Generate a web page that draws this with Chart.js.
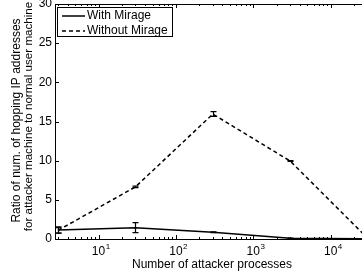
<!DOCTYPE html>
<html>
<head>
<meta charset="utf-8">
<script src="https://cdn.jsdelivr.net/npm/chart.js@4.4.0/dist/chart.umd.min.js"></script>
<style>
  html, body { margin: 0; padding: 0; background: #fff; }
  #wrap { width: 362px; height: 275px; }
</style>
</head>
<body>
<div id="wrap"><canvas id="graph" width="362" height="275"></canvas></div>
<script>
// Values
const processes = [3, 30, 300, 3000, 30000];
const withMirage = [1.15, 1.45, 0.85, 0.1, 0.02];
const withMirageErr = [0.4, 0.64, 0.05, 0.03, 0];
const withoutMirage = [1.1, 6.65, 15.95, 9.95, 0.1];
const withoutMirageErr = [0.35, 0.1, 0.3, 0.05, 0];
const yTicks = [0, 5, 10, 15, 20, 25, 30];
const xDecades = [1, 2, 3, 4];
const seriesNames = ['With Mirage', 'Without Mirage'];

const FONT = '"Liberation Sans", Arial, sans-serif';

function points(ys) {
    return processes.map((x, i) => ({ x: x, y: ys[i] }));
}

// Axes, ticks, error bars and legend drawn in MATLAB style
const matlabAxes = {
    id: 'matlabAxes',
    afterDatasetsDraw(chart) {
        const ctx = chart.ctx;
        const a = chart.chartArea;
        const xs = chart.scales.x;
        const ys = chart.scales.y;
        ctx.save();
        ctx.strokeStyle = '#000';
        ctx.fillStyle = '#000';

        // error bars
        ctx.save();
        ctx.beginPath();
        ctx.rect(a.left, a.top - 2, a.right - a.left, a.bottom - a.top + 2);
        ctx.clip();
        ctx.lineWidth = 1.2;
        chart.data.datasets.forEach(ds => {
            ds.data.forEach((p, j) => {
                const e = ds.errors[j];
                if (!e) return;
                const px = Math.round(xs.getPixelForValue(p.x)) + 0.5;
                const t = ys.getPixelForValue(p.y + e);
                const b = ys.getPixelForValue(p.y - e);
                ctx.beginPath();
                ctx.moveTo(px, t); ctx.lineTo(px, b);
                ctx.moveTo(px - 3, t); ctx.lineTo(px + 3, t);
                ctx.moveTo(px - 3, b); ctx.lineTo(px + 3, b);
                ctx.stroke();
            });
        });
        ctx.restore();

        // box (right side falls outside the picture)
        ctx.lineWidth = 1;
        ctx.beginPath();
        ctx.moveTo(a.right, a.top + 0.5);
        ctx.lineTo(a.left + 0.5, a.top + 0.5);
        ctx.lineTo(a.left + 0.5, a.bottom + 0.5);
        ctx.lineTo(a.right, a.bottom + 0.5);
        ctx.stroke();

        // log ticks on bottom and top
        ctx.beginPath();
        for (let k = 0; k <= 4; k++) {
            for (let m = 1; m <= 9; m++) {
                const v = m * Math.pow(10, k);
                if (v < xs.min || v > xs.max) continue;
                const px = Math.round(xs.getPixelForValue(v)) + 0.5;
                const len = m === 1 ? 4 : 2;
                ctx.moveTo(px, a.bottom); ctx.lineTo(px, a.bottom - len);
                ctx.moveTo(px, a.top); ctx.lineTo(px, a.top + len);
            }
        }
        // y ticks
        yTicks.forEach(v => {
            const py = Math.round(ys.getPixelForValue(v)) + 0.5;
            ctx.moveTo(a.left, py); ctx.lineTo(a.left + 4, py);
        });
        ctx.stroke();

        // y tick labels
        ctx.font = '12px ' + FONT;
        ctx.textAlign = 'right';
        ctx.textBaseline = 'middle';
        yTicks.forEach(v => {
            ctx.fillText(String(v), a.left - 3, ys.getPixelForValue(v));
        });

        // x tick labels 10^k
        xDecades.forEach(k => {
            const px = xs.getPixelForValue(Math.pow(10, k));
            ctx.font = '12px ' + FONT;
            ctx.textAlign = 'center';
            ctx.textBaseline = 'alphabetic';
            ctx.fillText('10', px, a.bottom + 16);
            const w = ctx.measureText('10').width;
            ctx.font = '8px ' + FONT;
            ctx.textAlign = 'left';
            ctx.fillText(String(k), px + w / 2 + 0.5, a.bottom + 10);
        });

        // axis titles
        ctx.font = '12px ' + FONT;
        ctx.textAlign = 'center';
        ctx.textBaseline = 'middle';
        ctx.fillText('Number of attacker processes', 212, 265);
        ctx.textBaseline = 'alphabetic';
        [['Ratio of num. of hopping IP addresses', 19.5, 120.5, 12],
         ['for attacker machine to normal user machine', 32.3, 116.5, 11.6]].forEach(([txt, x, y, size]) => {
            ctx.save();
            ctx.font = size + 'px ' + FONT;
            ctx.translate(x, y);
            ctx.rotate(-Math.PI / 2);
            ctx.fillText(txt, 0, 0);
            ctx.restore();
        });

        // legend
        ctx.font = '12px ' + FONT;
        ctx.textBaseline = 'middle';
        const lx = 57.5, ly = 7.5, lw = 115, lh = 29;
        ctx.fillStyle = '#fff';
        ctx.fillRect(lx, ly, lw, lh);
        ctx.strokeRect(lx, ly, lw, lh);
        ctx.fillStyle = '#000';
        chart.data.datasets.forEach((ds, i) => {
            const yy = 16 + i * 15;
            ctx.lineWidth = 1.5;
            ctx.setLineDash(ds.borderDash || []);
            ctx.beginPath();
            ctx.moveTo(62, yy); ctx.lineTo(85, yy);
            ctx.stroke();
            ctx.setLineDash([]);
            ctx.textAlign = 'left';
            ctx.fillText(ds.label, 87, yy);
        });
        ctx.restore();
    }
};

new Chart(document.getElementById('graph').getContext('2d'), {
    type: 'line',
    data: {
        datasets: [{
            label: seriesNames[0],
            data: points(withMirage),
            errors: withMirageErr,
            borderColor: '#000',
            borderWidth: 1.5,
            pointRadius: 0,
            tension: 0
        }, {
            label: seriesNames[1],
            data: points(withoutMirage),
            errors: withoutMirageErr,
            borderColor: '#000',
            borderWidth: 1.5,
            borderDash: [4, 3],
            pointRadius: 0,
            tension: 0
        }]
    },
    options: {
        responsive: false,
        animation: false,
        devicePixelRatio: 1,
        layout: { padding: { left: 55, top: 4, right: 0, bottom: 36 } },
        plugins: { legend: { display: false }, tooltip: { enabled: false } },
        scales: {
            x: { type: 'logarithmic', min: 2.74, max: 25400, display: false },
            y: { min: 0, max: 30, display: false }
        }
    },
    plugins: [matlabAxes]
});
</script>
</body>
</html>
